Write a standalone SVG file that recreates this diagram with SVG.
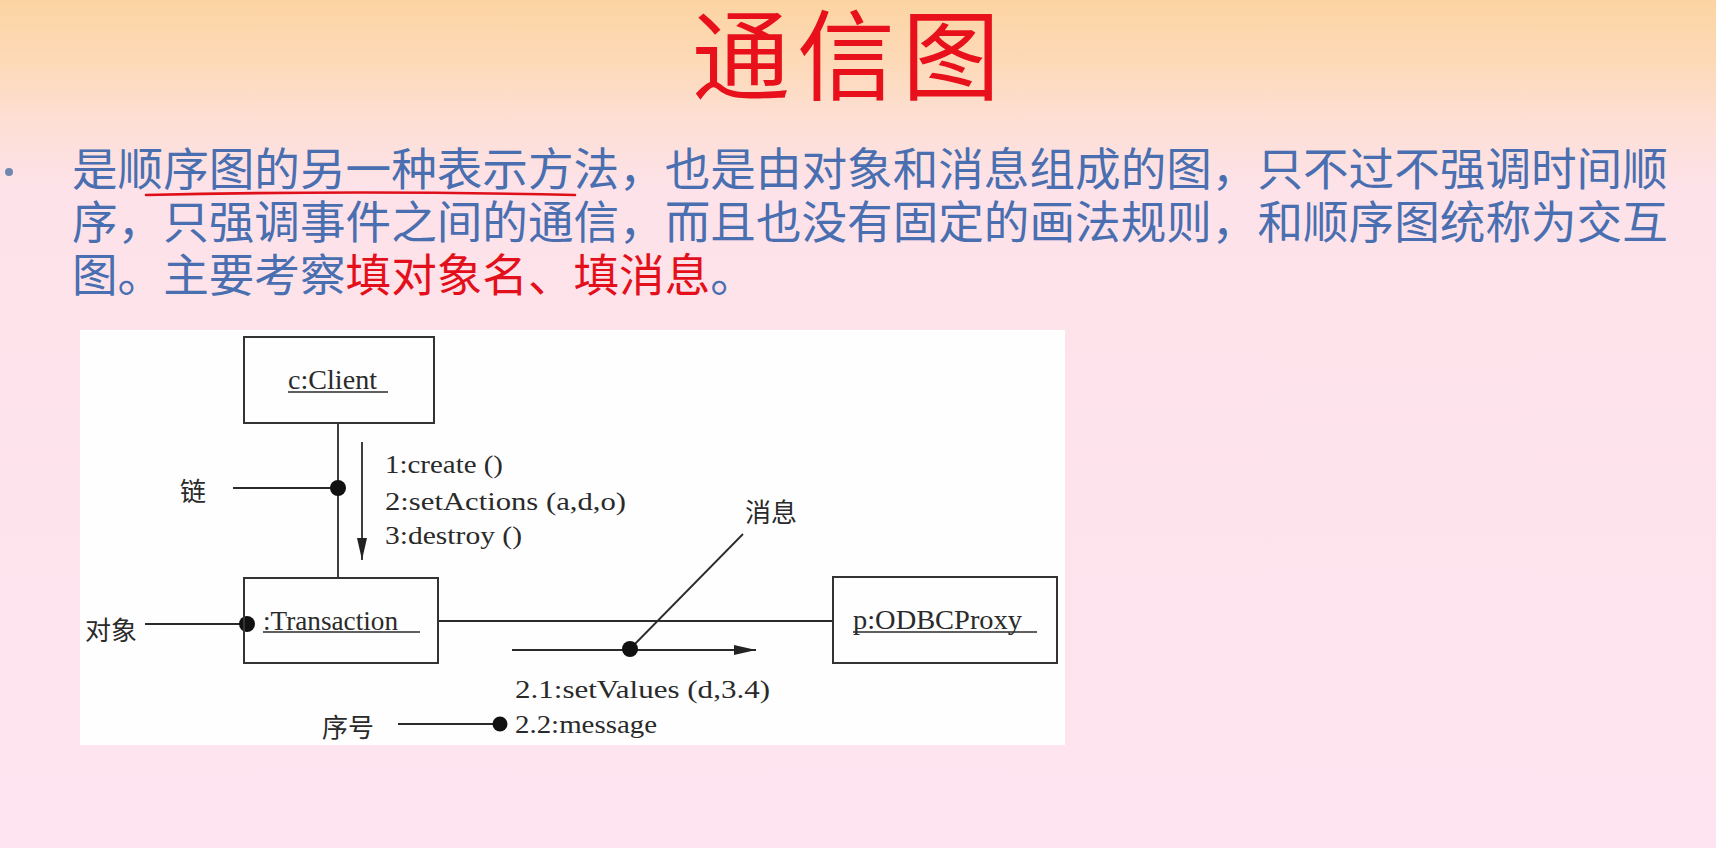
<svg xmlns="http://www.w3.org/2000/svg" width="1716" height="848" viewBox="0 0 1716 848">
  <defs>
    <linearGradient id="bg" x1="0" y1="0" x2="0" y2="848" gradientUnits="userSpaceOnUse">
      <stop offset="0" stop-color="#fcd4a3"/>
      <stop offset="0.07" stop-color="#fdd9b6"/>
      <stop offset="0.14" stop-color="#fddfd3"/>
      <stop offset="0.22" stop-color="#fde2e9"/>
      <stop offset="1" stop-color="#fee4f0"/>
    </linearGradient>
    <marker id="arrow" markerUnits="userSpaceOnUse" markerWidth="22" markerHeight="10" refX="22" refY="5" orient="auto">
      <path d="M0,0 L22,5 L0,10 Z" fill="#222"/>
    </marker>
    <style>
      .title { font-family: "Noto Sans CJK SC", sans-serif; font-size: 98px; font-weight: 400; fill: #e8101a; letter-spacing: 7px; }
      .body { font-family: "Noto Sans CJK SC", sans-serif; font-size: 45.6px; fill: #4a6fb0; }
      .hl { fill: #e3101c; }
      .box { fill: none; stroke: #333; stroke-width: 2; }
      .obj { font-family: "Liberation Serif", "Times New Roman", serif; font-size: 27px; fill: #2a2a2a; }
      .msg { font-family: "Liberation Serif", "Times New Roman", serif; font-size: 26px; fill: #2a2a2a; }
      .note { font-family: "Noto Sans CJK SC", sans-serif; font-size: 26px; fill: #2a2a2a; }
      .line { stroke: #2a2a2a; stroke-width: 1.8; fill: none; }
      .ul { stroke: #2a2a2a; stroke-width: 1.5; }
      .dot { fill: #111; }
    </style>
  </defs>

  <!-- slide background -->
  <rect x="0" y="0" width="1716" height="848" fill="url(#bg)"/>

  <!-- heading -->
  <text class="title" x="692" y="92">通信图</text>

  <!-- bullet paragraph -->
  <circle cx="9" cy="172" r="4" fill="#7088b0"/>
  <text class="body" x="72" y="186">是顺序图的另一种表示方法，也是由对象和消息组成的图，只不过不强调时间顺</text>
  <text class="body" x="72" y="239">序，只强调事件之间的通信，而且也没有固定的画法规则，和顺序图统称为交互</text>
  <text class="body" x="72" y="292">图。主要考察<tspan class="hl">填对象名、填消息</tspan>。</text>
  <path d="M146,195 Q360,190 575,195" fill="none" stroke="#e0101a" stroke-width="2.6" stroke-linecap="round"/>

  <!-- diagram panel -->
  <rect x="80" y="330" width="985" height="415" fill="#fefefe"/>

  <!-- connectors -->
  <g id="connectors">
    <!-- links between objects -->
    <line class="line" x1="338" y1="423" x2="338" y2="578"/>
    <line class="line" x1="438" y1="621" x2="833" y2="621"/>
    <!-- message arrows -->
    <line class="line" x1="362" y1="442" x2="362" y2="560" marker-end="url(#arrow)"/>
    <line class="line" x1="512" y1="650" x2="756" y2="650" marker-end="url(#arrow)"/>
    <!-- annotation pointers -->
    <line class="line" x1="233" y1="488" x2="338" y2="488"/>
    <circle class="dot" cx="338" cy="488" r="8"/>
    <line class="line" x1="145" y1="624" x2="247" y2="624"/>
    <circle class="dot" cx="247" cy="624" r="8"/>
    <line class="line" x1="630" y1="649" x2="743" y2="534"/>
    <circle class="dot" cx="630" cy="649" r="8"/>
    <line class="line" x1="398" y1="724" x2="500" y2="724"/>
    <circle class="dot" cx="500" cy="724" r="7.5"/>
  </g>

  <!-- objects -->
  <g id="client">
    <rect class="box" x="244" y="337" width="190" height="86"/>
    <text class="obj" x="288" y="389" textLength="89" lengthAdjust="spacingAndGlyphs">c:Client</text>
    <line class="ul" x1="288" y1="392" x2="388" y2="392"/>
  </g>
  <g id="transaction">
    <rect class="box" x="244" y="578" width="194" height="85"/>
    <text class="obj" x="263" y="630" textLength="135" lengthAdjust="spacingAndGlyphs">:Transaction</text>
    <line class="ul" x1="263" y1="632" x2="420" y2="632"/>
  </g>
  <g id="odbcproxy">
    <rect class="box" x="833" y="577" width="224" height="86"/>
    <text class="obj" x="853" y="629" textLength="169" lengthAdjust="spacingAndGlyphs">p:ODBCProxy</text>
    <line class="ul" x1="853" y1="632" x2="1037" y2="632"/>
  </g>

  <!-- message labels -->
  <g id="messages">
    <text class="msg" x="385" y="473" textLength="118" lengthAdjust="spacingAndGlyphs">1:create ()</text>
    <text class="msg" x="385" y="510" textLength="241" lengthAdjust="spacingAndGlyphs">2:setActions (a,d,o)</text>
    <text class="msg" x="385" y="544" textLength="137" lengthAdjust="spacingAndGlyphs">3:destroy ()</text>
    <text class="msg" x="515" y="698" textLength="255" lengthAdjust="spacingAndGlyphs">2.1:setValues (d,3.4)</text>
    <text class="msg" x="515" y="733" textLength="142" lengthAdjust="spacingAndGlyphs">2.2:message</text>
  </g>

  <!-- annotation labels -->
  <g id="labels">
    <text class="note" x="180" y="501">链</text>
    <text class="note" x="85" y="640">对象</text>
    <text class="note" x="745" y="522">消息</text>
    <text class="note" x="322" y="737">序号</text>
  </g>
</svg>
